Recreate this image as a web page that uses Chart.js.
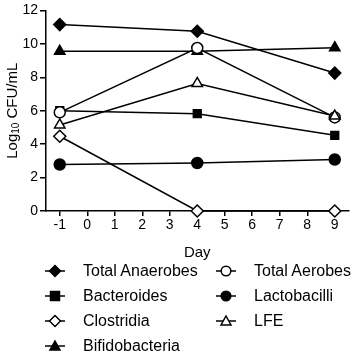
<!DOCTYPE html>
<html>
<head>
<meta charset="utf-8">
<script src="https://cdn.jsdelivr.net/npm/chart.js@4/dist/chart.umd.min.js"></script>
<style>
  html,body{margin:0;padding:0;background:#fff;}
  #wrap{position:relative;width:356px;height:352px;overflow:hidden;font-family:"Liberation Sans",Arial,sans-serif;}
  #cv{position:absolute;left:0;top:0;}
  .lg{position:absolute;height:20px;display:flex;align-items:center;font-size:16px;color:#000;white-space:nowrap;}
  .lg svg{margin-right:18px;}
</style>
</head>
<body>
<div id="wrap">
  <canvas id="cv" width="356" height="262"></canvas>
  <div id="legend"></div>
</div>
<script>
// ---- data ----
const days = [-1, 4, 9];
const xTicks = [-1, 0, 1, 2, 3, 4, 5, 6, 7, 8, 9];
const yTicks = [0, 2, 4, 6, 8, 10, 12];
const seriesNames = ['Total Anaerobes','Total Aerobes','Bacteroides','Lactobacilli','Clostridia','LFE','Bifidobacteria'];
const totalAnaerobes = [11.15, 10.75, 8.25];
const totalAerobes   = [5.9, 9.75, 5.6];
const bacteroides    = [6.0, 5.82, 4.53];
const lactobacilli   = [2.78, 2.87, 3.08];
const clostridia     = [4.47, 0, 0];
const lfe            = [5.15, 7.63, 5.68];
const bifidobacteria = [9.55, 9.55, 9.77];

const values = [totalAnaerobes,totalAerobes,bacteroides,lactobacilli,clostridia,lfe,bifidobacteria];
// marker: [pointStyle, filled, radius]
const markers = [['rectRot',true,6],['circle',false,5.5],['rect',true,5.5],['circle',true,5.5],['rectRot',false,6],['triangle',false,6],['triangle',true,6]];
const drawOrder = [2,1,2,2,2,0,2];

const datasets = seriesNames.map((n,i)=>({
  label:n,
  data:days.map((d,j)=>({x:d,y:values[i][j]})),
  borderColor:'#000',borderWidth:1.5,
  pointStyle:markers[i][0],pointRadius:markers[i][2],pointBorderWidth:1.5,
  pointBackgroundColor:markers[i][1]?'#000':'#fff',pointBorderColor:'#000',
  order:drawOrder[i],tension:0,clip:false
}));

// y title with a real subscript
const yTitle={id:'yTitle',afterDraw(c){
  const ctx=c.ctx, a=c.chartArea, cx=13, cy=(a.top+a.bottom)/2;
  const big='15px "Liberation Sans"', small='10px "Liberation Sans"';
  const parts=[['Log',big,0],['10',small,3],[' CFU/mL',big,0]];
  ctx.save(); ctx.translate(cx,cy); ctx.rotate(-Math.PI/2);
  ctx.fillStyle='#000'; ctx.textBaseline='middle';
  let w=0; parts.forEach(p=>{ctx.font=p[1]; w+=ctx.measureText(p[0]).width;});
  let x=-w/2;
  parts.forEach(p=>{ctx.font=p[1]; ctx.fillText(p[0],x,p[2]); x+=ctx.measureText(p[0]).width;});
  ctx.restore();
}};

new Chart(document.getElementById('cv'),{
  type:'line',
  data:{datasets},
  plugins:[yTitle],
  options:{
    responsive:false,animation:false,
    layout:{padding:{top:5,right:2,left:0,bottom:0}},
    plugins:{legend:{display:false},tooltip:{enabled:false}},
    scales:{
      x:{type:'linear',min:-1.5,max:9.5,
        afterBuildTicks:s=>{s.ticks=xTicks.map(v=>({value:v}));},
        afterFit:s=>{s.height=51;},
        border:{color:'#000',width:1.5},
        grid:{drawOnChartArea:false,color:'#000',tickLength:5,lineWidth:1.5},
        ticks:{color:'#000',font:{family:'Liberation Sans',size:14},padding:1,maxRotation:0,autoSkip:false},
        title:{display:true,text:'Day',color:'#000',font:{family:'Liberation Sans',size:15},padding:{top:2,bottom:0}}
      },
      y:{min:0,max:12,
        afterBuildTicks:s=>{s.ticks=yTicks.map(v=>({value:v}));},
        afterFit:s=>{s.width=46;},
        border:{color:'#000',width:1.5},
        grid:{drawOnChartArea:false,color:'#000',tickLength:6,lineWidth:1.5},
        ticks:{color:'#000',font:{family:'Liberation Sans',size:14},padding:2}
      }
    }
  }
});

// ---- legend ----
function markerSvg(m){
  const [style,filled]=m, f=filled?'#000':'#fff';
  let shape='';
  if(style==='circle') shape=`<circle cx="10" cy="10" r="4.8" fill="${f}" stroke="#000" stroke-width="1.5"/>`;
  else if(style==='rect') shape=`<rect x="5.5" y="5.5" width="9" height="9" fill="${f}" stroke="#000" stroke-width="1.5"/>`;
  else if(style==='rectRot') shape=`<polygon points="10,4.5 15.5,10 10,15.5 4.5,10" fill="${f}" stroke="#000" stroke-width="1.5"/>`;
  else shape=`<polygon points="10,5 15,14 5,14" fill="${f}" stroke="#000" stroke-width="1.5"/>`;
  return `<svg width="20" height="20"><line x1="0" y1="10" x2="20" y2="10" stroke="#000" stroke-width="1.5"/>${shape}</svg>`;
}
const legX=[45,216], legY=[261,286,311,336];
let h='';
seriesNames.forEach((n,i)=>{
  const col=i%2, row=Math.floor(i/2);
  h+=`<div class="lg" style="left:${legX[col]}px;top:${legY[row]}px">${markerSvg(markers[i])}<span>${n}</span></div>`;
});
document.getElementById('legend').innerHTML=h;
</script>
</body>
</html>
